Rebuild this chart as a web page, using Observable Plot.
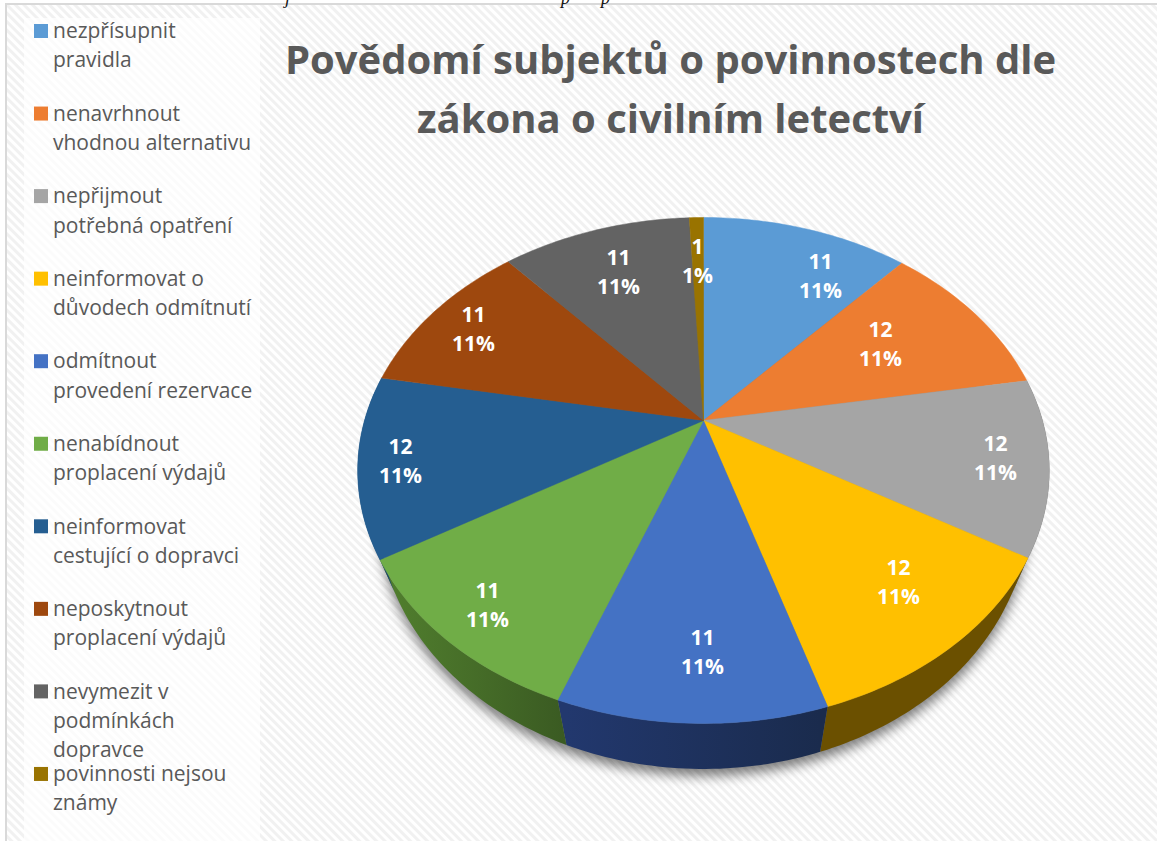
<!DOCTYPE html>
<html lang="cs">
<head>
<meta charset="utf-8">
<title>Povědomí subjektů</title>
<script src="https://cdn.jsdelivr.net/npm/d3@7"></script>
<script src="https://cdn.jsdelivr.net/npm/@observablehq/plot@0.6"></script>
<style>html,body{margin:0;padding:0;background:#fff}svg{display:block}</style>
</head>
<body>
<div id="chart"></div>
<script>
// ---- data ----
const categories = ["nezpřísupnit\npravidla","nenavrhnout\nvhodnou alternativu","nepřijmout\npotřebná opatření","neinformovat o\ndůvodech odmítnutí","odmítnout\nprovedení rezervace","nenabídnout\nproplacení výdajů","neinformovat\ncestující o dopravci","neposkytnout\nproplacení výdajů","nevymezit v\npodmínkách\ndopravce","povinnosti nejsou\nznámy"];
const sliceShares = [11.7,10.6,11.2,11.7,10.5,10.7,11.5,10.6,10.7,0.8];
const valueLabels = [11,12,12,12,11,11,12,11,11,1];
const percentLabels = ["11%","11%","11%","11%","11%","11%","11%","11%","11%","1%"];
const sliceColors = ["#5b9bd5","#ed7d31","#a5a5a5","#ffc000","#4472c4","#70ad47","#255e91","#9e480e","#636363","#997300"];
const titleLines = "Povědomí subjektů o povinnostech dle\nzákona o civilním letectví";

// ---- layout ----
const W = 1157, H = 841;
const topFace = {cx:703, y0:420, a:243.1, b:339, k:0.1976};
const baseFace = {cx:703, y0:461, a:246.7, b:318.6, k:0.1976};
const project = (f, deg, r=1) => {
  const t = deg*Math.PI/180, d = 1 + f.k*r*Math.cos(t);
  return [f.cx + f.b*r*Math.sin(t)/d, f.y0 - f.a*r*Math.cos(t)/d];
};
const labelAnchors = [[820,274],[880,342],[995,456],[898,580],[702,650],[487,603],[400,459],[473,327],[618,270],[697,259]];
const sideShades = [null,null,["#6a6a6a","#555555"],["#6b5000","#6b5000"],["#22386e","#1a2b4d"],["#4f7c2d","#3a5a22"],["#1c476e","#1c476e"],null,null,null];

const cum = d3.cumsum(sliceShares);
const angles = categories.map((name,i)=>[(i?cum[i-1]:0)*3.6, cum[i]*3.6]);
const arc = (f,a0,a1) => { const n=Math.max(2,Math.ceil(Math.abs(a1-a0))); return d3.range(n+1).map(j=>project(f,a0+(a1-a0)*j/n)); };

const topPoints = categories.flatMap((name,i)=>{
  const [a0,a1]=angles[i];
  return [[topFace.cx,topFace.y0],...arc(topFace,a0,a1),[topFace.cx,topFace.y0]].map(([x,y])=>({name,x,y}));
});
const basePoints = arc(baseFace,0,360).map(([x,y])=>({x,y}));
const sideMarks = categories.flatMap((name,i)=>{
  if(!sideShades[i]) return [];
  const [a0,a1]=angles[i];
  const pts=[...arc(topFace,a0,a1),...arc(baseFace,a1,a0)].map(([x,y])=>({x,y}));
  return [Plot.line(pts,{x:"x",y:"y",fill:`url(#side${i})`,stroke:"none"})];
});
const labels = categories.map((name,i)=>({x:labelAnchors[i][0],y:labelAnchors[i][1],text:`${valueLabels[i]}\n${percentLabels[i]}`}));
const legendRows = categories.map((name,i)=>({name,row:i,y:31+82.55*i}));

const chart = Plot.plot({
  width:W,height:H,margin:0,
  x:{domain:[0,W],range:[0,W],axis:null},
  y:{domain:[0,H],range:[0,H],axis:null},
  color:{type:"ordinal",domain:categories,range:sliceColors},
  style:{fontFamily:"'Open Sans',sans-serif",background:"#fff"},
  marks:[
    Plot.rect([{}],{x1:()=>6,y1:()=>4,x2:()=>W+20,y2:()=>H+20,fill:"url(#hatch)",stroke:"#d9d9d9",strokeWidth:2}),
    Plot.rect([{}],{x1:()=>24,y1:()=>18,x2:()=>260,y2:()=>H+20,fill:"#fff",fillOpacity:0.72}),
    Plot.text(["j","p","p"],{x:(d,i)=>[287,565,605][i],y:()=>-2,text:d=>d,fontFamily:"'Liberation Serif',serif",fontStyle:"italic",fontSize:18,fill:"#111"}),
    // legend
    Plot.rect(legendRows,{x1:()=>34,x2:()=>48,y1:d=>d.y-7,y2:d=>d.y+7,fill:"name"}),
    Plot.text(legendRows,{x:()=>52.5,y:d=>d.y-14,text:"name",textAnchor:"start",lineAnchor:"top",fontSize:21,lineHeight:1.39,fill:"#595959"}),
    // title
    Plot.text([titleLines],{x:()=>670,y:()=>84,text:d=>d,fontSize:40,fontWeight:700,lineHeight:1.49,fill:"#595959"}),
    // pie shadow, sides, top face
    Plot.line(basePoints,{x:"x",y:d=>d.y+7,fill:"#000",fillOpacity:0.5,stroke:"none",
      render(index,scales,values,dims,ctx,next){const g=next(index,scales,values,dims,ctx);g.style.filter="blur(6px)";return g;}}),
    ...sideMarks,
    Plot.line(topPoints,{x:"x",y:"y",z:"name",fill:"name",stroke:"name",strokeWidth:0.5}),
    Plot.text(labels,{x:"x",y:"y",text:"text",fontSize:21,fontWeight:700,lineHeight:1.39,fill:"#fff"})
  ]
});

// paint servers used by the marks above
const ns="http://www.w3.org/2000/svg";
const defs=document.createElementNS(ns,"defs");
const pattern=`<pattern id="hatch" patternUnits="userSpaceOnUse" width="6" height="6" patternTransform="rotate(-45)"><rect width="6" height="6" fill="#fff"/><rect width="3" height="6" fill="#f1f1f1"/></pattern>`;
const grads=sideShades.map((s,i)=>{
  if(!s) return "";
  const [a0,a1]=angles[i];const xs=arc(baseFace,a0,a1).map(p=>p[0]);
  return `<linearGradient id="side${i}" gradientUnits="userSpaceOnUse" x1="${d3.min(xs)}" x2="${d3.max(xs)}" y1="0" y2="0"><stop offset="0" stop-color="${s[0]}"/><stop offset="1" stop-color="${s[1]}"/></linearGradient>`;
}).join("");
defs.innerHTML=pattern+grads;
chart.insertBefore(defs,chart.firstChild);
document.getElementById("chart").append(chart);
</script>
</body>
</html>
